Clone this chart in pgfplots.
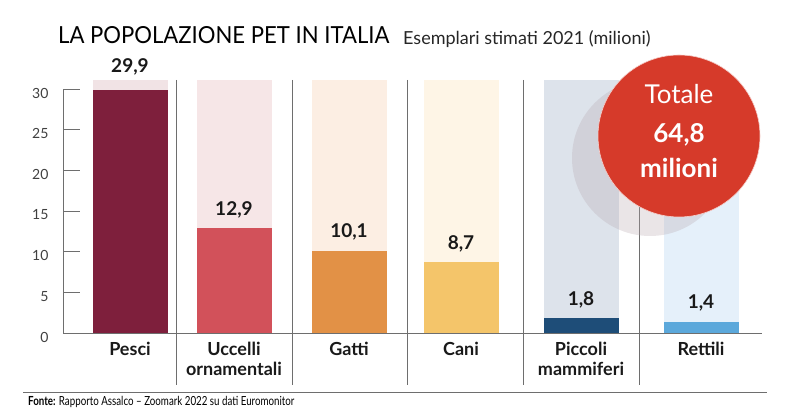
\documentclass[border=0pt]{standalone}
\usepackage{fontspec}
\setmainfont{Lato}
\newfontfamily\condfont{Lato}[FakeStretch=0.94]
\newfontfamily\srcfont{Lato}[FakeStretch=0.78]
\usepackage{pgfplots}
\pgfplotsset{compat=1.18}

\definecolor{pesci}{HTML}{7E1F3C}
\definecolor{pescibg}{HTML}{F1E3E5}
\definecolor{uccelli}{HTML}{D2515A}
\definecolor{uccellibg}{HTML}{F6E6E7}
\definecolor{gatti}{HTML}{E29146}
\definecolor{gattibg}{HTML}{FCEEE3}
\definecolor{cani}{HTML}{F4C56A}
\definecolor{canibg}{HTML}{FEF5E6}
\definecolor{piccoli}{HTML}{1E4D78}
\definecolor{piccolibg}{HTML}{DDE3EB}
\definecolor{rettili}{HTML}{5BA8DB}
\definecolor{rettilibg}{HTML}{E5F0FA}
\definecolor{totred}{HTML}{D63A2A}
\definecolor{shadow}{HTML}{B8A8B0}
\definecolor{linegray}{HTML}{6E6E6E}

\begin{document}
\begin{tikzpicture}[x=1pt,y=1pt]
\path[use as bounding box] (0,0) rectangle (800,419);

% titles
\node[anchor=base west, inner sep=0pt, font=\condfont\fontsize{23.5}{24}\selectfont] at (58,375) {LA POPOLAZIONE PET IN ITALIA};
\node[anchor=base west, inner sep=0pt, font=\fontsize{18}{20}\selectfont, text=black!85] at (403,374) {Esemplari stimati 2021 (milioni)};

% separators between categories
\foreach \sx in {176,292,407,523,639}
  \draw[linegray, line width=0.6pt] (\sx,339) -- (\sx,34);

\begin{axis}[
    at={(63pt,86pt)}, anchor=south west,
    scale only axis, width=699pt, height=244pt,
    xmin=63, xmax=762, ymin=0, ymax=30,
    clip=false,
    axis lines*=left,
    axis line style={linegray, line width=0.6pt},
    ybar, bar width=75, bar shift=0pt,
    ytick={0,5,...,30},
    tick align=inside,
    major tick length=17pt,
    ytick style={linegray, line width=0.6pt},
    yticklabel style={font=\fontsize{14}{14}\selectfont, text=black!75, xshift=-11pt, yshift=-4pt},
    xtick={130,234,349,461,581,701},
    xticklabels={Pesci, Uccelli\\ornamentali, Gatti, Cani, Piccoli\\mammiferi, Rettili},
    xtick style={draw=none},
    xticklabel style={align=center, font=\bfseries\fontsize{18}{20}\selectfont, text=black!90, yshift=-6pt},
    /pgf/number format/assume math mode=true,
    nodes near coords style={font=\bfseries\fontsize{19}{19}\selectfont, text=black!90, anchor=base, yshift=13pt,
      /pgf/number format/use comma, /pgf/number format/fixed,
      /pgf/number format/fixed zerofill, /pgf/number format/precision=1},
]
% background bars
\addplot[fill=pescibg, draw=none] coordinates {(130,31.1)};
\addplot[fill=uccellibg, draw=none] coordinates {(234,31.1)};
\addplot[fill=gattibg, draw=none] coordinates {(349,31.1)};
\addplot[fill=canibg, draw=none] coordinates {(461,31.1)};
\addplot[fill=piccolibg, draw=none] coordinates {(581,31.1)};
\addplot[fill=rettilibg, draw=none] coordinates {(701,31.1)};
% values
\addplot[fill=pesci, draw=none, nodes near coords, nodes near coords style={yshift=4pt}] coordinates {(130,29.9)};
\addplot[fill=uccelli, draw=none, nodes near coords] coordinates {(234,12.9)};
\addplot[fill=gatti, draw=none, nodes near coords] coordinates {(349,10.1)};
\addplot[fill=cani, draw=none, nodes near coords] coordinates {(461,8.7)};
\addplot[fill=piccoli, draw=none, nodes near coords] coordinates {(581,1.8)};
\addplot[fill=rettili, draw=none, nodes near coords] coordinates {(701,1.4)};
\end{axis}

% total badge
\fill[shadow, opacity=0.3] (650,261) circle (78);
\fill[totred] (679,283) circle (81);
\draw[white!75!totred, line width=0.6pt] (679,283) circle (81);
\node[anchor=base, inner sep=0pt, text=white, font=\fontsize{26}{26}\selectfont] at (679,315) {Totale};
\node[anchor=base, inner sep=0pt, text=white, font=\bfseries\fontsize{26}{26}\selectfont] at (679,276) {64,8};
\node[anchor=base, inner sep=0pt, text=white, font=\bfseries\fontsize{26}{26}\selectfont] at (679,241) {milioni};

% source
\draw[linegray, line width=0.6pt] (23,27) -- (767,27);
\node[anchor=base west, inner sep=0pt, font=\srcfont\fontsize{12.5}{13}\selectfont] at (28,13) {\textbf{Fonte:} Rapporto Assalco – Zoomark 2022 su dati Euromonitor};
\end{tikzpicture}
\end{document}
